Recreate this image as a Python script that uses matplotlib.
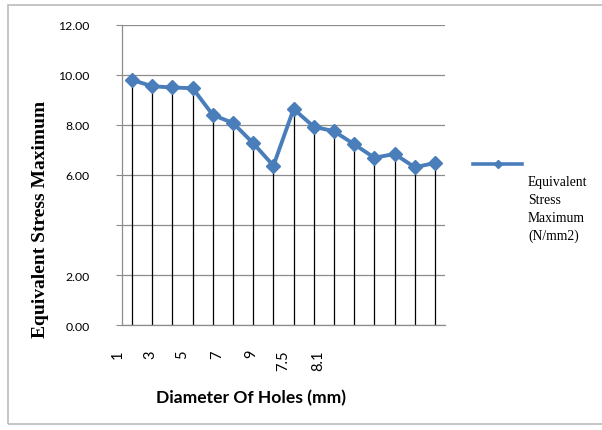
import matplotlib.pyplot as plt
import numpy as np
from matplotlib.lines import Line2D
from matplotlib.patches import Rectangle
from matplotlib.transforms import blended_transform_factory

# values (16 hole sizes)
stress = [9.80, 9.55, 9.50, 9.47, 8.40, 8.08, 7.27, 6.37,
          8.64, 7.93, 7.75, 7.23, 6.69, 6.84, 6.31, 6.48]
# category labels as they show under the axis, and where they sit (category index)
xlabels = ['1', '3', '5', '7', '9', '7.5', '8.1']
xlabel_pos = [-0.7, 0.9, 2.5, 4.2, 5.9, 7.5, 9.2]
yticks = [0, 2, 4, 6, 8, 10, 12]
yticklabels = ['0.00', '2.00', '', '6.00', '8.00', '10.00', '12.00']
series_name = 'Equivalent\nStress\nMaximum\n(N/mm2)'

blue = '#4A7EBB'
grey = '#8C8C8C'

fig = plt.figure(figsize=(6.02, 4.31), dpi=100)
ax = fig.add_axes([0.2027, 0.2436, 0.5365, 0.6961])

x = np.arange(len(stress))
ax.set_xlim(-0.5, len(stress) - 0.5)
ax.set_ylim(0, 12)

# drop lines from each point down to the axis
ax.vlines(x, 0, stress, color='black', lw=0.9, zorder=2)
ax.plot(x, stress, color=blue, lw=2.8, marker='D', ms=7.5,
        mec=blue, mfc=blue, zorder=3)

ax.set_yticks(yticks)
ax.set_yticklabels(yticklabels, fontsize=8.8, family='Lato')
ax.yaxis.grid(True, color=grey, lw=0.9)
ax.set_axisbelow(True)
ax.tick_params(axis='y', length=4.3, color=grey, pad=19)
ax.set_xticks([])

for s in ['top', 'right']:
    ax.spines[s].set_visible(False)
for s in ['left', 'bottom']:
    ax.spines[s].set_color(grey)
    ax.spines[s].set_linewidth(0.9)

trans = blended_transform_factory(ax.transData, ax.transAxes)
for lab, p in zip(xlabels, xlabel_pos):
    ax.text(p, -0.08, lab, transform=trans, rotation=90, ha='center', va='top',
            fontsize=10.5, family='Lato')

ax.set_ylabel('Equivalent Stress Maximum', family='Liberation Serif',
              fontweight='bold', fontsize=14, labelpad=0)
ax.yaxis.set_label_coords(-0.226, 0.355)
ax.set_xlabel('Diameter Of Holes (mm)', family='Lato', fontweight='bold',
              fontsize=12.6)
ax.xaxis.set_label_coords(0.40, -0.213)

# legend: Excel puts the line sample above the wrapped series name
fig.lines.append(Line2D([0.786, 0.867], [0.617, 0.617], transform=fig.transFigure,
                        color=blue, lw=2.6))
fig.lines.append(Line2D([0.8265], [0.617], transform=fig.transFigure,
                        color=blue, marker='D', ms=4.5, mfc=blue, mec=blue))
fig.text(0.877, 0.592, series_name, family='Liberation Serif', fontsize=9.8,
         va='top', ha='left', linespacing=1.5)

# light outer frame like the spreadsheet chart area
fig.patches.append(Rectangle((0.013, 0.015), 1.2, 0.97, transform=fig.transFigure,
                             fill=False, edgecolor='#BBBBBB', lw=1.2))

fig.savefig('out.png', dpi=100)
